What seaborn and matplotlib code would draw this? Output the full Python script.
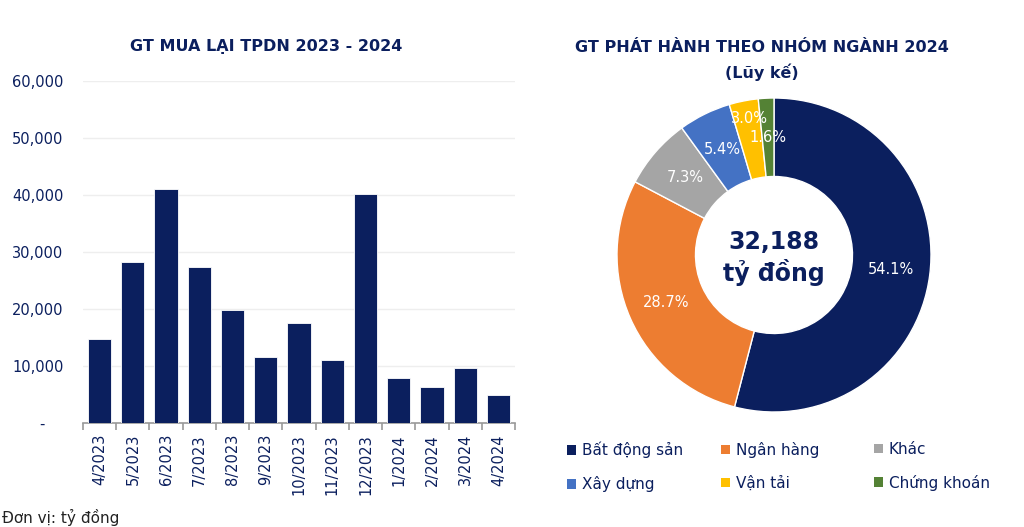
import matplotlib
matplotlib.use("Agg")
import matplotlib.pyplot as plt
import seaborn as sns
import pandas as pd
from matplotlib.ticker import FuncFormatter, FixedLocator

# ---- data ----
months = ["4/2023", "5/2023", "6/2023", "7/2023", "8/2023", "9/2023", "10/2023",
          "11/2023", "12/2023", "1/2024", "2/2024", "3/2024", "4/2024"]
buyback = [14800, 28300, 41100, 27400, 19900, 11500, 17500, 11000, 40200, 7950, 6400, 9700, 5000]

sectors = ["Bất động sản", "Ngân hàng", "Khác", "Xây dựng", "Vận tải", "Chứng khoán"]
shares = [54.1, 28.7, 7.3, 5.4, 3.0, 1.6]
total_label = "32,188\ntỷ đồng"

bar_title = "GT MUA LẠI TPDN 2023 - 2024"
pie_title = "GT PHÁT HÀNH THEO NHÓM NGÀNH 2024"
pie_subtitle = "(Lũy kế)"
unit_note = "Đơn vị: tỷ đồng"

# ---- style ----
NAVY = "#0B1F5E"
sector_colors = ["#0B1F5E", "#ED7D31", "#A5A5A5", "#4472C4", "#FFC000", "#548235"]

sns.set_theme(style="white")
plt.rcParams["font.family"] = ["DejaVu Sans"]

fig = plt.figure(figsize=(10.24, 5.27), dpi=100)
fig.patch.set_facecolor("white")

# ---- bar chart ----
ax = fig.add_axes([83 / 1024, 1 - 423 / 527, (515 - 83) / 1024, (423 - 81) / 527])
df = pd.DataFrame({"month": months, "value": buyback})
sns.barplot(data=df, x="month", y="value", color=NAVY, width=0.7, ax=ax,
            saturation=1, edgecolor="white", linewidth=0.6, zorder=3)
ax.set_xlim(-0.5, len(months) - 0.5)
ax.set_ylim(0, 60000)
ax.set_yticks(range(0, 60001, 10000))
ax.yaxis.set_major_formatter(FuncFormatter(lambda v, p: "-    " if v == 0 else f"{int(v):,}"))
ax.grid(axis="y", color="#EEEEEE", linewidth=1, zorder=0)
ax.set_xlabel("")
ax.set_ylabel("")
for s in ["top", "right", "left"]:
    ax.spines[s].set_visible(False)
ax.spines["bottom"].set_color("#999999")
ax.spines["bottom"].set_linewidth(1.2)
ax.tick_params(axis="y", length=0, labelsize=10.5, labelcolor=NAVY, pad=14)
ax.tick_params(axis="x", which="major", length=0, labelsize=10.5, labelcolor=NAVY,
               rotation=90, pad=8)
ax.xaxis.set_minor_locator(FixedLocator([i - 0.5 for i in range(len(months) + 1)]))
ax.tick_params(axis="x", which="minor", bottom=True, length=5, width=1.2,
               color="#999999", direction="out")

fig.text(266 / 1024, 1 - 47 / 527, bar_title, ha="center", va="center",
         fontsize=11.5, fontweight="bold", color=NAVY)
fig.text(2 / 1024, 1 - 517 / 527, unit_note, ha="left", va="center",
         fontsize=11, color="#222222")

# ---- donut chart ----
cx, cy, r = 774, 255, 157
pax = fig.add_axes([(cx - r) / 1024, 1 - (cy + r) / 527, 2 * r / 1024, 2 * r / 527])
wedges, texts, autotexts = pax.pie(
    shares, colors=sector_colors, startangle=90, counterclock=False, radius=1,
    autopct=lambda p: "", pctdistance=0.75,
    wedgeprops=dict(width=0.5, edgecolor="white", linewidth=1))
for at, val in zip(autotexts, shares):
    at.set_text(f"{val:.1f}%")
    at.set_color("white")
    at.set_fontsize(10.5)
# nudge the small 3.0% label outward as in the reference
x3, y3 = autotexts[4].get_position()
autotexts[4].set_position((x3 * 1.1, y3 * 1.18))
pax.set_xlim(-1, 1)
pax.set_ylim(-1, 1)
pax.set_aspect("equal")
pax.axis("off")
pax.text(0, -0.02, total_label, ha="center", va="center", fontsize=17,
         fontweight="bold", color=NAVY, linespacing=1.25)

fig.text(762 / 1024, 1 - 48 / 527, pie_title, ha="center", va="center",
         fontsize=11.5, fontweight="bold", color=NAVY)
fig.text(762 / 1024, 1 - 72 / 527, pie_subtitle, ha="center", va="center",
         fontsize=11.5, fontweight="bold", color=NAVY)

# ---- legend: three columns ----
col_x = [567, 721, 874]
for c in range(3):
    idx = [c, c + 3]
    leg = fig.legend([wedges[i] for i in idx], [sectors[i] for i in idx],
                     loc="upper left", bbox_to_anchor=(col_x[c] / 1024, 1 - 442 / 527),
                     frameon=False, fontsize=11, handlelength=0.6, handleheight=0.6,
                     handletextpad=0.35, labelspacing=1.15, borderaxespad=0, borderpad=0)
    for t in leg.get_texts():
        t.set_color(NAVY)
    for h in leg.legend_handles:
        h.set_edgecolor("none")

fig.savefig("out.png", dpi=100, facecolor="white")
